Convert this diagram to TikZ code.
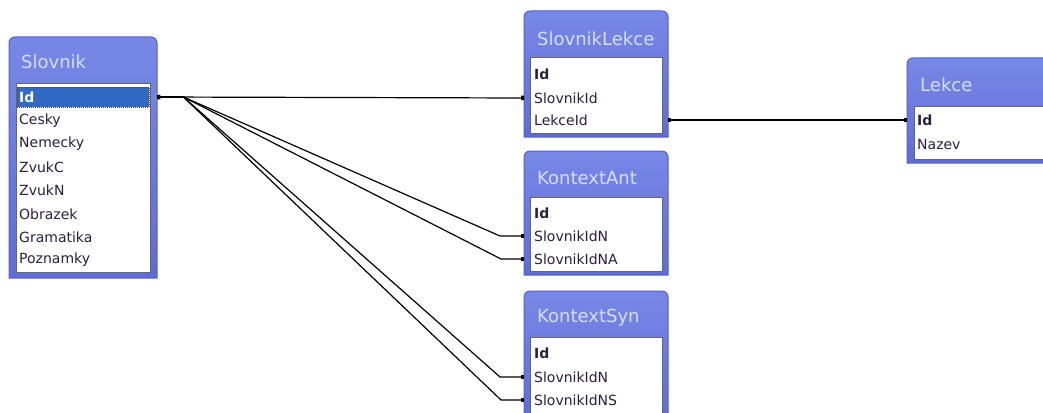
\documentclass[tikz,border=0pt]{standalone}
\usepackage{fontspec}
\setmainfont{DejaVu Sans}
\usepackage{tikz}
\usetikzlibrary{arrows.meta}
\usetikzlibrary{calc}
\definecolor{tabblue}{RGB}{96,108,214}
\definecolor{tablight}{RGB}{120,136,230}
\definecolor{tabedge}{RGB}{84,96,200}
\definecolor{tabtitle}{RGB}{212,222,250}
\definecolor{selblue}{RGB}{49,106,197}
\definecolor{rowtext}{RGB}{45,30,60}
\tikzset{
  tabframe/.style={draw=tabedge, line width=1pt, top color=tablight, bottom color=tabblue},
  tabinner/.style={fill=white, draw=gray!80!black, line width=1pt},
  tabtitle/.style={anchor=west, inner sep=0pt, text=tabtitle, font=\fontsize{18}{20}\selectfont},
  tabrow/.style={anchor=west, inner xsep=10pt, inner ysep=0pt, text width=#1, align=left,
                 text=rowtext, font=\fontsize{14}{16}\selectfont},
  tabrow/.default=124pt,
  relline/.style={draw, line width=1.2pt, {Square[length=3pt,width=4.5pt]}-{Square[length=3pt,width=4.5pt]}}
}

\begin{document}
\begin{tikzpicture}[x=1pt, y=-1pt]
    \clip (0,0) rectangle (1043,412);

    % Slovnik
    \path[tabframe] (9,278) [rounded corners=6pt] -- (9,37) -- (157,37) [sharp corners] -- (157,278) -- cycle;
    \draw[tabinner] (16,83) rectangle (150,272);
    \node[tabtitle] (slovnik) at (21,62) {Slovnik};
    \fill[selblue] (17,87) rectangle (149,107);
    \draw[orange!50!black, densely dotted, line width=1pt] (17,87) rectangle (149,107);
    \node[tabrow=128pt, text=white] (slovnik-id) at (9,97)  {\textbf{Id}};
    \node[tabrow=128pt] (slovnik-cesky)     at (9,121) {Cesky};
    \node[tabrow=128pt] (slovnik-nemecky)   at (9,144) {Nemecky};
    \node[tabrow=128pt] (slovnik-zvukc)     at (9,167) {ZvukC};
    \node[tabrow=128pt] (slovnik-zvukn)     at (9,190) {ZvukN};
    \node[tabrow=128pt] (slovnik-obrazek)   at (9,214) {Obrazek};
    \node[tabrow=128pt] (slovnik-gramatika) at (9,237) {Gramatika};
    \node[tabrow=128pt] (slovnik-poznamky)  at (9,260) {Poznamky};

    % SlovnikLekce
    \path[tabframe] (524,137) [rounded corners=6pt] -- (524,11) -- (668,11) [sharp corners] -- (668,137) -- cycle;
    \draw[tabinner] (530,58) rectangle (662,133);
    \node[tabtitle] (slovniklekce) at (537,39) {SlovnikLekce};
    \node[tabrow] (sl-id)        at (524,74)  {\textbf{Id}};
    \node[tabrow] (sl-slovnikid) at (524,98)  {SlovnikId};
    \node[tabrow] (sl-lekceid)   at (524,120) {LekceId};

    % KontextAnt
    \path[tabframe] (524,275) [rounded corners=6pt] -- (524,151) -- (668,151) [sharp corners] -- (668,275) -- cycle;
    \draw[tabinner] (530,197) rectangle (662,271);
    \node[tabtitle] (kontextant) at (537,178) {KontextAnt};
    \node[tabrow] (ant-id) at (524,213) {\textbf{Id}};
    \node[tabrow] (ant-n)  at (524,236) {SlovnikIdN};
    \node[tabrow] (ant-na) at (524,259) {SlovnikIdNA};

    % KontextSyn
    \path[tabframe] (524,420) [rounded corners=6pt] -- (524,291) -- (668,291) [sharp corners] -- (668,420) -- cycle;
    \draw[tabinner] (530,337) rectangle (662,416);
    \node[tabtitle] (kontextsyn) at (537,318) {KontextSyn};
    \node[tabrow] (syn-id) at (524,353) {\textbf{Id}};
    \node[tabrow] (syn-n)  at (524,377) {SlovnikIdN};
    \node[tabrow] (syn-ns) at (524,400) {SlovnikIdNS};

    % Lekce
    \path[tabframe] (907,163) [rounded corners=6pt] -- (907,58) -- (1060,58) [sharp corners] -- (1060,163) -- cycle;
    \draw[tabinner] (914,106) rectangle (1060,159);
    \node[tabtitle] (lekce) at (920,85) {Lekce};
    \node[tabrow=140pt] (lekce-id)    at (907,120) {\textbf{Id}};
    \node[tabrow=140pt] (lekce-nazev) at (907,144) {Nazev};

    % relations
    \draw[relline] (slovnik-id.east) -- (sl-slovnikid.west);
    \draw[relline] (sl-lekceid.east) -- (lekce-id.west);
    \draw[relline] (slovnik-id.east) -- ++(26,0) -- ($(ant-n.west)+(-24,0)$) -- (ant-n.west);
    \draw[relline] (slovnik-id.east) -- ++(26,0) -- ($(ant-na.west)+(-23,0)$) -- (ant-na.west);
    \draw[relline] (slovnik-id.east) -- ++(26,0) -- ($(syn-n.west)+(-24,0)$) -- (syn-n.west);
    \draw[relline] (slovnik-id.east) -- ++(26,0) -- ($(syn-ns.west)+(-23,0)$) -- (syn-ns.west);
\end{tikzpicture}
\end{document}
